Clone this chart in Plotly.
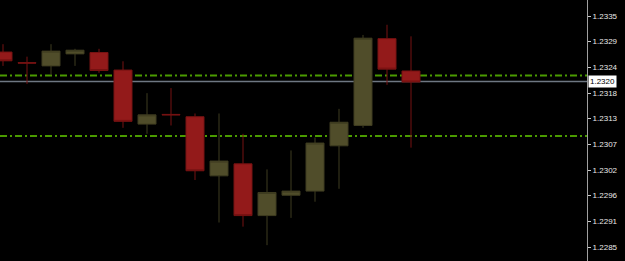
import plotly.graph_objects as go

# Candle data (left to right)
idx = list(range(18))
opens  = [1.23272, 1.23249, 1.23242, 1.23268, 1.23271, 1.23233, 1.23116, 1.23137, 1.23132,
          1.23004, 1.23030, 1.22918, 1.22962, 1.22971, 1.23069, 1.23113, 1.23301, 1.23231]
highs  = [1.23289, 1.23262, 1.23289, 1.23279, 1.23279, 1.23252, 1.23183, 1.23194, 1.23139,
          1.23139, 1.23095, 1.23018, 1.23059, 1.23087, 1.23149, 1.23309, 1.23331, 1.23306]
lows   = [1.23242, 1.23203, 1.23222, 1.23242, 1.23227, 1.23108, 1.23095, 1.23113, 1.22995,
          1.22903, 1.22894, 1.22854, 1.22913, 1.22948, 1.22976, 1.23108, 1.23201, 1.23065]
closes = [1.23253, 1.23248, 1.23274, 1.23276, 1.23232, 1.23122, 1.23136, 1.23136, 1.23015,
          1.23036, 1.22918, 1.22968, 1.22971, 1.23075, 1.23120, 1.23302, 1.23235, 1.23207]

tick_vals = [1.2285 + i * 0.005 / 9 for i in range(10)]
tick_text = ["1.2285", "1.2291", "1.2296", "1.2302", "1.2307",
             "1.2313", "1.2318", "1.2324", "1.2329", "1.2335"]

current_price = 1.23208
current_label = "1.2320"
level_lines = [1.23221, 1.23090]

fig = go.Figure()
fig.add_trace(go.Candlestick(
    x=idx, open=opens, high=highs, low=lows, close=closes,
    increasing=dict(fillcolor="#504d2a", line=dict(color="#3e3c20", width=1)),
    decreasing=dict(fillcolor="#931a1a", line=dict(color="#761212", width=1)),
    whiskerwidth=0, hoverinfo="skip", showlegend=False,
))

shapes = []
for lv in level_lines:
    shapes.append(dict(type="line", xref="paper", x0=0, x1=1, yref="y", y0=lv, y1=lv,
                       line=dict(color="#4a9a00", width=2, dash="7px,3px,2px,3px"),
                       layer="below"))
shapes.append(dict(type="line", xref="paper", x0=0, x1=1, yref="y", y0=current_price, y1=current_price,
                   line=dict(color="#6e7782", width=1.5), layer="below"))

y_lo = 1.2335 - 245 * 0.005 / 231
y_hi = 1.2335 + 16 * 0.005 / 231

fig.update_layout(
    width=625, height=261,
    margin=dict(l=0, r=38, t=0, b=0),
    paper_bgcolor="#000000", plot_bgcolor="#000000",
    boxgap=0.167, boxgroupgap=0.1,
    shapes=shapes,
    xaxis=dict(range=[-0.125, -0.125 + 587 / 24], visible=False, showgrid=False,
               zeroline=False, rangeslider=dict(visible=False), fixedrange=True),
    yaxis=dict(range=[y_lo, y_hi], side="right", showgrid=False, zeroline=False,
               tickvals=tick_vals, ticktext=tick_text, ticks="outside", ticklen=3,
               tickcolor="#c8c8c8", showline=True, linecolor="#a0a0a0", linewidth=1,
               tickfont=dict(family="Liberation Sans", size=8, color="#e8e8e8")),
    annotations=[dict(xref="paper", x=1.0, yref="y", y=current_price, text=current_label,
                      showarrow=False, xanchor="left", yanchor="middle", xshift=1,
                      bgcolor="#ffffff", font=dict(family="Liberation Sans", size=8, color="#000000"),
                      borderpad=1)],
)

fig.write_html("out.html")
